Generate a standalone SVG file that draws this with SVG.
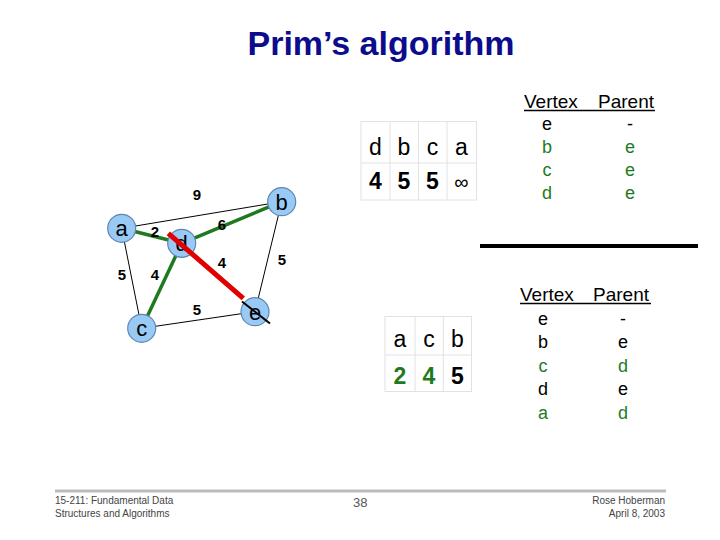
<svg xmlns="http://www.w3.org/2000/svg" width="720" height="540" viewBox="0 0 720 540">
<style>
text{font-family:"Liberation Sans",Arial,sans-serif}
.title{font-size:34px;font-weight:bold;fill:#0c0c8c;text-anchor:middle}
.node circle{fill:#99c9f5;stroke:#5f86b0;stroke-width:1.2}
.node text{font-size:22px;text-anchor:middle;fill:#000}
.thin{stroke:#000;stroke-width:1;fill:none}
.tree{stroke:#1f7a1f;stroke-width:3.5;fill:none}
.wt{font-size:15px;font-weight:bold;text-anchor:middle;fill:#000}
.cell{fill:none;stroke:#e2e2e2;stroke-width:1}
.th{font-size:23px;text-anchor:middle;fill:#000}
.tv{font-size:23px;font-weight:bold;text-anchor:middle;fill:#000}
.vp{font-size:19px;fill:#000}
.row{font-size:18px;text-anchor:middle;fill:#000}
.g{fill:#1f7a1f}
.foot{font-size:10px;fill:#444}
</style>
<rect width="720" height="540" fill="#fff"/>
<text class="title" x="381" y="55">Prim’s algorithm</text>

<g id="connectors">
  <line class="thin" x1="121.7" y1="228.3" x2="281.7" y2="201.7"/>
  <line class="thin" x1="121.7" y1="228.3" x2="141.7" y2="328.3"/>
  <line class="thin" x1="281.7" y1="201.7" x2="255" y2="311.7"/>
  <line class="thin" x1="141.7" y1="328.3" x2="255" y2="311.7"/>
  <line class="tree" x1="121.7" y1="228.3" x2="181.7" y2="243.3"/>
  <line class="tree" x1="181.7" y1="243.3" x2="281.7" y2="201.7"/>
  <line class="tree" x1="181.7" y1="243.3" x2="141.7" y2="328.3"/>
</g>

<g id="weights">
  <text class="wt" x="197" y="200">9</text>
  <text class="wt" x="155" y="236.5">2</text>
  <text class="wt" x="222" y="230">6</text>
  <text class="wt" x="122" y="280">5</text>
  <text class="wt" x="155" y="280">4</text>
  <text class="wt" x="222" y="268">4</text>
  <text class="wt" x="282" y="265">5</text>
  <text class="wt" x="197" y="315">5</text>
</g>

<g id="node-a" class="node"><circle cx="121.7" cy="228.3" r="14"/><text x="121.7" y="236">a</text></g>
<g id="node-b" class="node"><circle cx="281.7" cy="201.7" r="14"/><text x="281.7" y="209.5">b</text></g>
<g id="node-d" class="node"><circle cx="181.7" cy="243.3" r="14"/><text x="181.7" y="251">d</text></g>
<g id="node-c" class="node"><circle cx="141.7" cy="328.3" r="14"/><text x="141.7" y="336">c</text></g>
<g id="node-e" class="node"><circle cx="255" cy="311.7" r="14"/><text x="255" y="319.5">e</text></g>

<g id="connectors-overlay">
  <line x1="168.3" y1="233.3" x2="243.3" y2="298.3" stroke="#e00000" stroke-width="5"/>
  <line x1="242" y1="301.5" x2="270" y2="323.5" stroke="#000" stroke-width="2"/>
</g>

<g id="heap1">
  <rect class="cell" x="361" y="121.5" width="115.5" height="78.5"/>
  <line class="cell" x1="361" y1="163" x2="476.5" y2="163"/>
  <line class="cell" x1="390" y1="121.5" x2="390" y2="200"/>
  <line class="cell" x1="418.5" y1="121.5" x2="418.5" y2="200"/>
  <line class="cell" x1="447" y1="121.5" x2="447" y2="200"/>
  <text class="th" x="375.5" y="155">d</text>
  <text class="th" x="404" y="155">b</text>
  <text class="th" x="432.5" y="155">c</text>
  <text class="th" x="461.5" y="155">a</text>
  <text class="tv" x="375.5" y="188.5">4</text>
  <text class="tv" x="404" y="188.5">5</text>
  <text class="tv" x="432.5" y="188.5">5</text>
  <text x="461.5" y="188.5" font-size="20" text-anchor="middle">∞</text>
</g>

<g id="heap2">
  <rect class="cell" x="385" y="316.5" width="86.5" height="75"/>
  <line class="cell" x1="385" y1="355" x2="471.5" y2="355"/>
  <line class="cell" x1="415" y1="316.5" x2="415" y2="391.5"/>
  <line class="cell" x1="443.3" y1="316.5" x2="443.3" y2="391.5"/>
  <text class="th" x="400" y="347">a</text>
  <text class="th" x="429" y="347">c</text>
  <text class="th" x="457.5" y="347">b</text>
  <text class="tv g" x="400" y="383.5">2</text>
  <text class="tv g" x="429" y="383.5">4</text>
  <text class="tv" x="457.5" y="383.5">5</text>
</g>

<g id="table1">
  <text class="vp" x="524" y="108">Vertex</text>
  <text class="vp" x="598" y="108">Parent</text>
  <line x1="524" y1="110.5" x2="655" y2="110.5" stroke="#000" stroke-width="1.5"/>
  <text class="row" x="547" y="130">e</text><text class="row" x="630" y="130">-</text>
  <text class="row g" x="547" y="153">b</text><text class="row g" x="630" y="153">e</text>
  <text class="row g" x="547" y="176">c</text><text class="row g" x="630" y="176">e</text>
  <text class="row g" x="547" y="199">d</text><text class="row g" x="630" y="199">e</text>
</g>

<line id="divider" x1="480" y1="246" x2="698" y2="246" stroke="#000" stroke-width="4"/>

<g id="table2">
  <text class="vp" x="520" y="301">Vertex</text>
  <text class="vp" x="593" y="301">Parent</text>
  <line x1="520" y1="303.5" x2="651" y2="303.5" stroke="#000" stroke-width="1.5"/>
  <text class="row" x="543" y="325">e</text><text class="row" x="623" y="325">-</text>
  <text class="row" x="543" y="348">b</text><text class="row" x="623" y="348">e</text>
  <text class="row g" x="543" y="371.5">c</text><text class="row g" x="623" y="371.5">d</text>
  <text class="row" x="543" y="395">d</text><text class="row" x="623" y="395">e</text>
  <text class="row g" x="543" y="418.5">a</text><text class="row g" x="623" y="418.5">d</text>
</g>

<g id="footer">
  <line x1="55" y1="491" x2="666" y2="491" stroke="#bbb" stroke-width="3"/>
  <text class="foot" x="55" y="504">15-211: Fundamental Data</text>
  <text class="foot" x="55" y="517">Structures and Algorithms</text>
  <text x="353" y="507" font-size="13" fill="#555">38</text>
  <text class="foot" x="665" y="504" text-anchor="end">Rose Hoberman</text>
  <text class="foot" x="665" y="517" text-anchor="end">April 8, 2003</text>
</g>
</svg>
